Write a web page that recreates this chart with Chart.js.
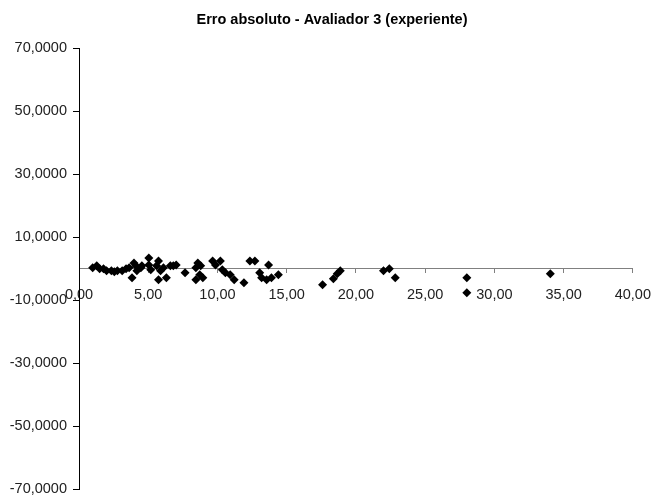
<!DOCTYPE html>
<html>
<head>
<meta charset="utf-8">
<script src="https://cdn.jsdelivr.net/npm/chart.js@4"></script>
<style>
  html, body { margin: 0; padding: 0; background: #fff; }
</style>
</head>
<body>
<canvas id="chart" width="664" height="504"></canvas>
<script>
const xValues = [0.99, 1.28, 1.49, 1.77, 1.99, 2.34, 2.55, 2.77, 3.12, 3.40,
                 3.62, 3.83, 3.97, 4.11, 4.18, 4.47, 4.54, 5.04, 5.04, 5.18,
                 5.74, 5.60, 5.89, 5.74, 6.10, 6.31, 6.60, 6.81, 7.02, 7.66,
                 8.58, 8.44, 8.79, 8.72, 8.44, 8.94, 9.65, 9.86, 10.21, 10.35,
                 10.57, 10.92, 11.21, 11.91, 12.34, 12.70, 13.05, 13.19, 13.69, 13.55,
                 13.90, 14.40, 17.59, 18.37, 18.65, 18.87, 21.99, 22.41, 22.84, 28.01,
                 28.01, 34.04];
const yValues = [0.32, 0.95, 0.00, 0.00, -0.63, -0.63, -0.95, -0.63, -0.63, 0.00,
                 0.32, -2.84, 1.89, 0.95, -0.63, 0.32, 0.95, 3.47, 1.26, -0.32,
                 2.52, 0.95, -0.63, -3.47, 0.32, -2.84, 0.95, 0.95, 1.26, -1.26,
                 1.89, 0.32, 0.95, -1.89, -3.47, -2.84, 2.52, 1.26, 2.52, -0.32,
                 -1.26, -1.89, -3.47, -4.42, 2.52, 2.52, -1.26, -2.84, 1.26, -3.47,
                 -2.84, -1.89, -5.05, -3.15, -1.58, -0.63, -0.63, 0.00, -2.84, -2.84,
                 -7.57, -1.58];
const xTicks = [0, 5, 10, 15, 20, 25, 30, 35, 40];
const yTicks = [-70, -50, -30, -10, 10, 30, 50, 70];

const FONT = '"Liberation Sans Narrow", "Arial Narrow", "Liberation Sans", sans-serif';

const points = xValues.map((x, i) => ({ x: x, y: yValues[i] }));

const ctx = document.getElementById('chart').getContext('2d');
const chart = new Chart(ctx, {
    type: 'scatter',
    data: {
        datasets: [{
            label: 'Erro absoluto',
            data: points,
            pointStyle: 'rectRot',
            pointRadius: 4.5,
            pointBackgroundColor: '#000',
            pointBorderColor: '#000',
            pointBorderWidth: 0,
        }],
    },
    options: {
        responsive: false,
        animation: false,
        layout: { padding: { left: 0, right: 0, top: 0, bottom: 12 } },
        plugins: {
            legend: { display: false },
            tooltip: { enabled: false },
            title: {
                display: true,
                text: 'Erro absoluto - Avaliador 3 (experiente)',
                color: '#000',
                font: { family: FONT, size: 14.5, weight: 'bold' },
                padding: { top: 11, bottom: 20 },
            },
        },
        scales: {
            x: {
                type: 'linear',
                position: { y: 0 },
                min: 0,
                max: 40,
                afterBuildTicks: s => { s.ticks = xTicks.map(v => ({ value: v })); },
                ticks: {
                    color: '#222',
                    font: { family: FONT, size: 14.5 },
                    padding: 13,
                    maxRotation: 0,
                    callback: v => v.toFixed(2).replace('.', ','),
                },
                grid: { drawOnChartArea: false, tickLength: 4, color: '#808080' },
                border: { color: '#808080', width: 1 },
            },
            y: {
                type: 'linear',
                position: 'left',
                min: -70,
                max: 70,
                afterBuildTicks: s => { s.ticks = yTicks.map(v => ({ value: v })); },
                afterFit: s => { s.width = 79; },
                ticks: {
                    color: '#222',
                    font: { family: FONT, size: 14.5 },
                    padding: 6,
                    callback: v => v.toFixed(4).replace('.', ','),
                },
                grid: { drawOnChartArea: false, tickLength: 6, color: '#000' },
                border: { color: '#000', width: 1 },
            },
            // empty right-hand margin so the title stays centred on the page
            spacer: {
                type: 'linear',
                position: 'right',
                afterFit: s => { s.width = 21; },
                ticks: { display: false },
                grid: { display: false },
                border: { display: false },
            },
        },
    },
});
</script>
</body>
</html>
